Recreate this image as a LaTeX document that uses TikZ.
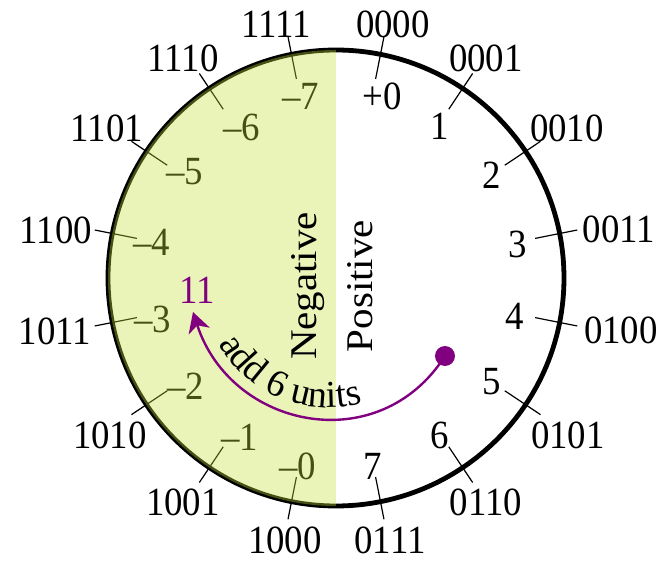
\documentclass[tikz,border=0pt]{standalone}
\usepackage{fontspec}
\setmainfont{Liberation Serif}
\usetikzlibrary{arrows.meta,decorations.text}
\definecolor{mypurple}{RGB}{128,0,128}
\definecolor{negfill}{RGB}{197,225,56}
\newcommand{\numfont}{\fontsize{40}{44}\selectfont}
\newcommand{\wordfont}{\fontsize{41}{44}\selectfont}
\newcommand{\addfont}{\fontsize{38}{40}\selectfont}
\begin{document}
\begin{tikzpicture}[x=1pt,y=1pt,
  lbl/.style={inner sep=0pt, font=\numfont, xscale=0.92},
  ticker/.style={line width=1.2pt},
  word/.style={inner sep=0pt, font=\wordfont, xscale=0.92, rotate=90}]
\useasboundingbox (-336,-284) rectangle (329,278);
% circle and ticks
\draw[line width=4.8pt] (0,0) circle[radius=228];
\foreach \k in {0,...,7}{
  \draw[ticker] ({78.75-22.5*\k}:203) -- ({78.75-22.5*\k}:246);
  \draw[ticker] ({101.25+22.5*\k}:203) -- ({101.25+22.5*\k}:246);
}
% inner labels
\node[lbl] (p0) at (46,182) {+0};
\node[lbl] (p1) at (104,152) {1};
\node[lbl] (p2) at (156,103) {2};
\node[lbl] (p3) at (182,34) {3};
\node[lbl] (p4) at (179,-38) {4};
\node[lbl] (p5) at (156,-104) {5};
\node[lbl] (p6) at (104,-157) {6};
\node[lbl] (p7) at (37,-188) {7};
\node[lbl] (n0) at (-38,-188) {–0};
\node[lbl] (n1) at (-96,-159) {–1};
\node[lbl] (n2) at (-150,-108) {–2};
\node[lbl] (n3) at (-183,-41) {–3};
\node[lbl] (n4) at (-184,36) {–4};
\node[lbl] (n5) at (-151,106) {–5};
\node[lbl] (n6) at (-94,151) {–6};
\node[lbl] (n7) at (-35,182) {–7};
% negative half shading
\fill[negfill, fill opacity=0.355] (0,228) arc[start angle=90, end angle=270, radius=228] -- cycle;
% outer labels
\node[lbl] (b0000) at (57,254) {0000};
\node[lbl] (b0001) at (150,220) {0001};
\node[lbl] (b0010) at (231,150) {0010};
\node[lbl] (b0011) at (283,49) {0011};
\node[lbl] (b0100) at (285,-52) {0100};
\node[lbl] (b0101) at (232,-157) {0101};
\node[lbl] (b0110) at (150,-224) {0110};
\node[lbl] (b0111) at (54,-262) {0111};
\node[lbl] (b1000) at (-51,-262) {1000};
\node[lbl] (b1001) at (-153,-224) {1001};
\node[lbl] (b1010) at (-226,-157) {1010};
\node[lbl] (b1011) at (-281,-53) {1011};
\node[lbl] (b1100) at (-280,48) {1100};
\node[lbl] (b1101) at (-229,150) {1101};
\node[lbl] (b1110) at (-153,220) {1110};
\node[lbl] (b1111) at (-60,254) {1111};
% words
\node[word] (neg) at (-28,-8) {Negative};
\node[word] (pos) at (24,-8) {Positive};
% arrow
\node[circle, fill=mypurple, inner sep=0pt, minimum size=20pt] (dot) at (109,-78) {};
\coordinate (tip) at (-143,-34);
\coordinate (arcc) at (-8,-3.5);
\draw[mypurple, line width=2.4pt, -{Stealth[length=20pt,width=22pt,inset=6pt]}]
  (dot.center) to[out=-122.5, in=-72, looseness=1.23] (tip);
\node[lbl, text=mypurple] (eleven) at (-139,-12) {11};
\path[decorate, decoration={text along path, text={|\addfont|add 6 units}}]
  ([shift={(-150:126)}]arcc) arc[start angle=-150, end angle=-30, radius=126];
\end{tikzpicture}
\end{document}
